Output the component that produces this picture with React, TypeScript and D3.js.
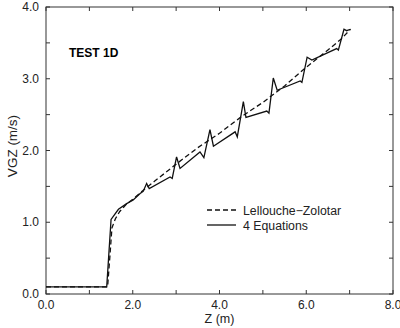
import React, { useEffect, useRef } from 'react';
import * as d3 from 'd3';

// Z (m), VGZ (m/s)
const lzZ = [0, 1.42, 1.47, 1.52, 1.6, 1.7, 1.85, 2.0, 2.25, 2.5, 3.0, 3.5, 4.0, 4.5, 5.0, 5.5, 6.0, 6.5, 6.8, 7.02];
const lzV = [0.1, 0.1, 0.5, 0.92, 1.05, 1.15, 1.25, 1.32, 1.45, 1.57, 1.81, 2.04, 2.24, 2.47, 2.67, 2.9, 3.16, 3.4, 3.55, 3.69];

const eqZ = [0, 1.4, 1.5, 1.67, 1.86, 2.01, 2.17, 2.24, 2.32, 2.38, 2.86, 2.91, 3.01, 3.09, 3.55, 3.64, 3.78, 3.86,
  4.36, 4.41, 4.55, 4.61, 5.09, 5.14, 5.24, 5.33, 5.86, 5.9, 6.02, 6.13, 6.7, 6.74, 6.87, 6.93, 7.02];
const eqV = [0.1, 0.1, 1.04, 1.18, 1.26, 1.31, 1.4, 1.43, 1.54, 1.47, 1.63, 1.61, 1.91, 1.75, 1.98, 1.9, 2.29, 2.06,
  2.26, 2.19, 2.68, 2.46, 2.55, 2.52, 3.01, 2.84, 2.97, 2.95, 3.3, 3.26, 3.42, 3.4, 3.69, 3.67, 3.69];

const xTicks = [0, 2, 4, 6, 8];
const yTicks = [0, 1, 2, 3, 4];
const seriesNames = ['Lellouche\u2212Zolotar', '4 Equations'];

const width = 400;
const height = 328;
const margin = { top: 7, right: 7, bottom: 34, left: 46 };

export default function App() {
  const ref = useRef<SVGSVGElement>(null);

  useEffect(() => {
    const svg = d3.select(ref.current);
    svg.selectAll('*').remove();
    const font = 'Liberation Sans, Arial, Helvetica, sans-serif';

    const x = d3.scaleLinear().domain([0, 8]).range([margin.left, width - margin.right]);
    const y = d3.scaleLinear().domain([0, 4]).range([height - margin.bottom, margin.top]);

    const tl = 4;
    const xAll = d3.range(0, 8.01, 1);
    const yAll = d3.range(0, 4.01, 0.5);

    // ticks on all four sides, pointing inward
    const ticks = svg.append('g').attr('stroke', '#333').attr('stroke-width', 1);
    xAll.forEach(t => {
      ticks.append('line').attr('x1', x(t)).attr('x2', x(t)).attr('y1', y(0)).attr('y2', y(0) - tl);
      ticks.append('line').attr('x1', x(t)).attr('x2', x(t)).attr('y1', y(4)).attr('y2', y(4) + tl);
    });
    yAll.forEach(t => {
      ticks.append('line').attr('x1', x(0)).attr('x2', x(0) + tl).attr('y1', y(t)).attr('y2', y(t));
      ticks.append('line').attr('x1', x(8)).attr('x2', x(8) - tl).attr('y1', y(t)).attr('y2', y(t));
    });

    svg.append('rect')
      .attr('x', x(0)).attr('y', y(4))
      .attr('width', x(8) - x(0)).attr('height', y(0) - y(4))
      .attr('fill', 'none').attr('stroke', '#333').attr('stroke-width', 1);

    svg.append('g').attr('font-family', font).attr('font-size', 12).attr('fill', '#222')
      .selectAll('text').data(xTicks).join('text')
      .attr('x', d => x(d)).attr('y', y(0) + 15)
      .attr('text-anchor', 'middle')
      .text(d => d.toFixed(1));

    svg.append('g').attr('font-family', font).attr('font-size', 12).attr('fill', '#222')
      .selectAll('text').data(yTicks).join('text')
      .attr('x', x(0) - 7).attr('y', d => y(d) + 4)
      .attr('text-anchor', 'end')
      .text(d => d.toFixed(1));

    svg.append('text').attr('font-family', font).attr('font-size', 12.5).attr('fill', '#222')
      .attr('x', x(4)).attr('y', height - 5).attr('text-anchor', 'middle').text('Z (m)');

    svg.append('text').attr('font-family', font).attr('font-size', 13.5).attr('fill', '#222')
      .attr('transform', `translate(16.5, 146) rotate(-90)`)
      .attr('text-anchor', 'middle').text('VGZ (m/s)');

    svg.append('text').attr('font-family', font).attr('font-size', 12).attr('font-weight', 'bold')
      .attr('x', 69).attr('y', 57).text('TEST 1D');

    const line = d3.line<[number, number]>().x(d => x(d[0])).y(d => y(d[1]));
    const lz = lzZ.map((z, i) => [z, lzV[i]] as [number, number]);
    const eq = eqZ.map((z, i) => [z, eqV[i]] as [number, number]);

    svg.append('path').attr('d', line(lz)).attr('fill', 'none')
      .attr('stroke', '#111').attr('stroke-width', 1.3).attr('stroke-dasharray', '5,3');
    svg.append('path').attr('d', line(eq)).attr('fill', 'none')
      .attr('stroke', '#111').attr('stroke-width', 1.3).attr('stroke-linejoin', 'miter');

    // legend
    const lg = svg.append('g').attr('transform', 'translate(207, 210)');
    seriesNames.forEach((name, i) => {
      lg.append('line').attr('x1', 0).attr('x2', 29).attr('y1', i * 15).attr('y2', i * 15)
        .attr('stroke', '#111').attr('stroke-width', 1.3)
        .attr('stroke-dasharray', i === 0 ? '5,3' : null);
      lg.append('text').attr('x', 36).attr('y', i * 15 + 4.5)
        .attr('font-family', font).attr('font-size', 12.3).attr('fill', '#222').text(name);
    });
  }, []);

  return (
    <svg ref={ref} width={width} height={height}
      style={{ position: 'absolute', left: 0, top: 0, background: '#fff' }} />
  );
}
